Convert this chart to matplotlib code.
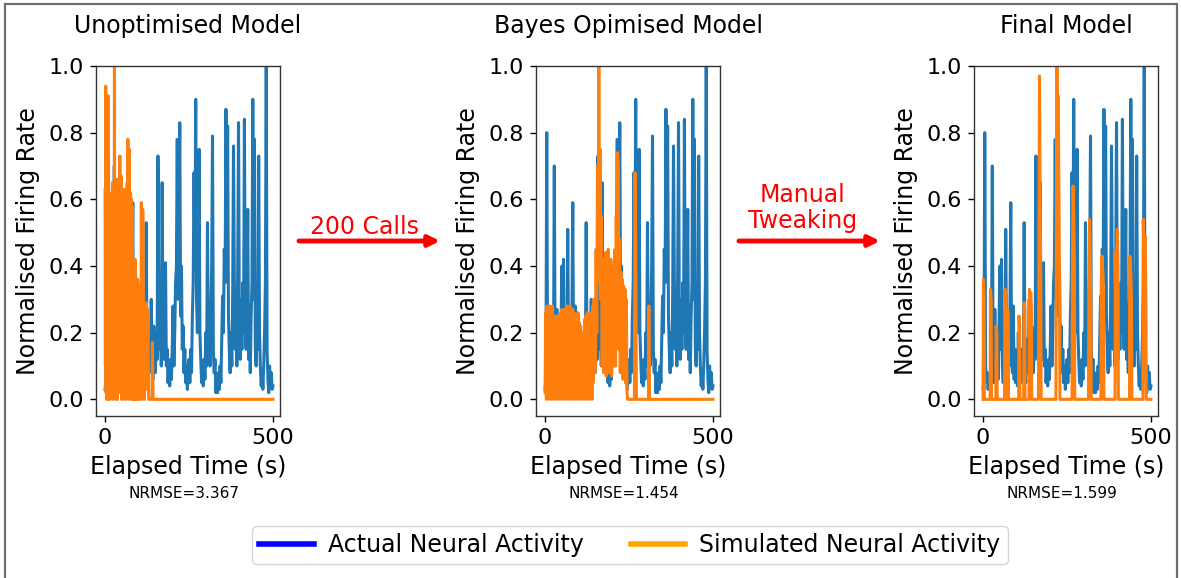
import matplotlib
matplotlib.use("Agg")
import matplotlib.pyplot as plt
from matplotlib.lines import Line2D
from matplotlib.patches import Rectangle, FancyArrowPatch

# keep every vertex of the spiky traces
plt.rcParams["path.simplify"] = False

# ---------------------------------------------------------------- data
# Recorded (actual) normalised firing rate, one sample every 2.5 s (0-500 s)
actual_t = [i * 2.5 for i in range(201)]
actual_v = [
    # 0 - 47.5
    0.03, 0.06, 0.80, 0.10, 0.05, 0.08, 0.03, 0.06, 0.04, 0.07,
    0.12, 0.70, 0.09, 0.05, 0.27, 0.08, 0.04, 0.12, 0.06, 0.22,
    # 50 - 97.5
    0.40, 0.15, 0.42, 0.10, 0.05, 0.12, 0.08, 0.51, 0.14, 0.06,
    0.20, 0.10, 0.25, 0.59, 0.12, 0.08, 0.28, 0.06, 0.15, 0.05,
    # 100 - 147.5
    0.12, 0.04, 0.20, 0.07, 0.10, 0.05, 0.15, 0.06, 0.10, 0.53,
    0.08, 0.05, 0.18, 0.08, 0.12, 0.30, 0.10, 0.06, 0.22, 0.12,
    # 150 - 197.5
    0.08, 0.20, 0.12, 0.73, 0.30, 0.15, 0.25, 0.10, 0.65, 0.20,
    0.12, 0.18, 0.41, 0.10, 0.15, 0.05, 0.10, 0.04, 0.12, 0.06,
    # 200 - 247.5
    0.15, 0.28, 0.10, 0.20, 0.35, 0.40, 0.78, 0.30, 0.55, 0.83,
    0.25, 0.40, 0.15, 0.22, 0.08, 0.15, 0.05, 0.10, 0.03, 0.08,
    # 250 - 297.5
    0.12, 0.05, 0.15, 0.08, 0.25, 0.35, 0.68, 0.40, 0.90, 0.30,
    0.20, 0.40, 0.75, 0.20, 0.12, 0.05, 0.10, 0.04, 0.12, 0.06,
    # 300 - 347.5
    0.20, 0.10, 0.53, 0.15, 0.22, 0.10, 0.25, 0.40, 0.79, 0.15,
    0.08, 0.12, 0.02, 0.06, 0.02, 0.08, 0.03, 0.10, 0.05, 0.18,
    # 350 - 397.5
    0.31, 0.20, 0.45, 0.35, 0.87, 0.40, 0.82, 0.25, 0.15, 0.08,
    0.20, 0.10, 0.30, 0.76, 0.35, 0.15, 0.25, 0.10, 0.40, 0.83,
    # 400 - 447.5
    0.20, 0.12, 0.30, 0.15, 0.35, 0.20, 0.84, 0.25, 0.15, 0.30,
    0.57, 0.12, 0.20, 0.08, 0.25, 0.35, 0.90, 0.30, 0.78, 0.15,
    # 450 - 497.5
    0.10, 0.25, 0.15, 0.73, 0.20, 0.10, 0.04, 0.08, 0.03, 0.10,
    0.20, 0.35, 1.00, 0.15, 0.06, 0.02, 0.10, 0.04, 0.08, 0.03,
    # 500
    0.04,
]

# Simulated activity, unoptimised model (1 s samples while active, then sparse)
sim_unopt_t = list(range(0, 85)) + [
    86, 88, 89, 91, 92, 96, 97, 99, 100, 107, 108, 110, 112, 113, 115, 117,
    118, 120, 122, 124, 126, 128, 130, 140, 141, 143, 500,
]
sim_unopt_v = [
    0.63, 0.10, 0.94, 0.02, 0.65, 0.00, 0.62, 0.15, 0.60, 0.00,
    0.91, 0.20, 0.62, 0.05, 0.60, 0.00, 0.58, 0.30, 0.60, 0.02,
    0.62, 0.10, 0.65, 0.00, 0.60, 0.25, 0.62, 0.05, 1.00, 0.10,
    0.60, 0.00, 0.62, 0.20, 0.60, 0.03, 0.66, 0.00, 0.63, 0.15,
    0.60, 0.02, 0.62, 0.30, 0.73, 0.05, 0.60, 0.10, 0.67, 0.00,
    0.60, 0.20, 0.62, 0.04, 0.58, 0.00, 0.60, 0.25, 0.63, 0.02,
    0.60, 0.10, 0.62, 0.00, 0.60, 0.15, 0.65, 0.03, 0.78, 0.20,
    0.60, 0.00, 0.75, 0.10, 0.60, 0.02, 0.62, 0.20, 0.60, 0.00,
    0.58, 0.05, 0.42, 0.00, 0.40,
    # sparse tail
    0.00, 0.00, 0.42, 0.38, 0.00, 0.00, 0.36, 0.30, 0.00, 0.00, 0.59, 0.10,
    0.57, 0.53, 0.00, 0.00, 0.25, 0.05, 0.29, 0.03, 0.27, 0.22, 0.00, 0.00,
    0.17, 0.00, 0.00,
]

# Simulated activity, Bayes-optimised model (2 s samples while active)
sim_bayes_t = list(range(0, 246, 2)) + [246, 266, 268, 270, 272, 308, 309,
                                          311, 500]
sim_bayes_v = [
    # 0 - 148
    0.02, 0.26, 0.00, 0.28, 0.03, 0.27, 0.00, 0.28, 0.05, 0.26,
    0.00, 0.28, 0.02, 0.25, 0.00, 0.25, 0.04, 0.24, 0.00, 0.25,
    0.03, 0.24, 0.00, 0.26, 0.02, 0.27, 0.00, 0.26, 0.05, 0.27,
    0.00, 0.26, 0.02, 0.28, 0.00, 0.27, 0.04, 0.28, 0.00, 0.26,
    0.02, 0.27, 0.00, 0.26, 0.03, 0.25, 0.00, 0.24, 0.02, 0.26,
    0.00, 0.23, 0.03, 0.22, 0.00, 0.19, 0.02, 0.20, 0.00, 0.24,
    0.03, 0.25, 0.00, 0.26, 0.02, 0.25, 0.00, 0.24, 0.03, 0.26,
    0.00, 0.28, 0.05, 0.30, 0.08,
    # 150 - 244
    0.10, 0.45, 0.20, 0.70, 0.35, 1.00, 0.50, 0.75, 0.30, 0.55,
    0.10, 0.42, 0.08, 0.38, 0.10, 0.44, 0.07, 0.40, 0.12, 0.45,
    0.08, 0.38, 0.12, 0.42, 0.07, 0.36, 0.10, 0.40, 0.12, 0.45,
    0.10, 0.55, 0.20, 0.74, 0.70, 0.15, 0.48, 0.08, 0.38, 0.10,
    0.36, 0.06, 0.34, 0.08, 0.33, 0.05, 0.30, 0.02,
    # sparse tail
    0.00, 0.00, 0.68, 0.45, 0.00, 0.00, 0.28, 0.00, 0.00,
]

# Simulated activity, final (hand-tuned) model: isolated bursts
sim_final_t = [
    0, 1, 3, 4, 21, 22, 24, 25, 38, 39, 41, 42, 64, 65, 67, 68, 72, 73, 75, 76,
    106, 107, 109, 110, 121, 122, 124, 125, 137, 138, 140, 142, 144, 145,
    165, 166, 168, 170, 172, 173, 217, 218, 220, 222, 224, 226, 228, 229,
    265, 266, 268, 270, 272, 273, 314, 315, 317, 319, 321, 322,
    351, 352, 354, 357, 359, 360, 393, 394, 397, 400, 402, 403,
    436, 437, 440, 442, 443, 476, 477, 480, 483, 485, 486, 500,
]
sim_final_v = [
    0.00, 0.36, 0.30, 0.00, 0.00, 0.33, 0.30, 0.00, 0.00, 0.22, 0.20, 0.00,
    0.00, 0.33, 0.30, 0.00, 0.00, 0.27, 0.25, 0.00, 0.00, 0.25, 0.22, 0.00,
    0.00, 0.29, 0.27, 0.00, 0.00, 0.33, 0.30, 0.32, 0.28, 0.00,
    0.00, 0.30, 0.97, 0.60, 0.35, 0.00, 0.00, 0.40, 1.00, 0.55, 0.91, 0.60,
    0.30, 0.00, 0.00, 0.40, 0.64, 0.55, 0.40, 0.00, 0.00, 0.30, 0.54, 0.45,
    0.30, 0.00, 0.00, 0.35, 0.43, 0.38, 0.30, 0.00, 0.00, 0.44, 0.38, 0.51,
    0.40, 0.00, 0.00, 0.43, 0.38, 0.30, 0.00, 0.00, 0.54, 0.45, 0.49, 0.30,
    0.00, 0.00,
]

panel_titles = ["Unoptimised Model", "Bayes Opimised Model", "Final Model"]
nrmse_values = ["3.367", "1.454", "1.599"]
sim_series = [(sim_unopt_t, sim_unopt_v), (sim_bayes_t, sim_bayes_v),
              (sim_final_t, sim_final_v)]
legend_labels = ["Actual Neural Activity", "Simulated Neural Activity"]
arrow_labels = ["200 Calls", "Manual\nTweaking"]

# ---------------------------------------------------------------- layout
W, H = 1181, 578
fig = plt.figure(figsize=(W / 100, H / 100), dpi=100)


def fx(px):
    return px / W


def fy(py):
    return 1 - py / H


axes_left_px = [96, 536, 974]
axes_w_px = 184
axes_top_px, axes_bot_px = 66, 416

for i, left in enumerate(axes_left_px):
    ax = fig.add_axes([fx(left), fy(axes_bot_px), axes_w_px / W,
                       (axes_bot_px - axes_top_px) / H])
    ax.plot(actual_t, actual_v, color="#1f77b4", lw=2.2)
    st, sv = sim_series[i]
    ax.plot(st, sv, color="#ff7f0e", lw=2.2)
    ax.set_xlim(-27, 521)
    ax.set_ylim(-0.05, 1.0)
    ax.set_xticks([0, 500])
    ax.set_yticks([0.0, 0.2, 0.4, 0.6, 0.8, 1.0])
    ax.tick_params(labelsize=16, length=4.5, width=1, pad=4)
    for sp in ax.spines.values():
        sp.set_color("#333333")
        sp.set_linewidth(1.0)
    ax.set_title(panel_titles[i], fontsize=17, pad=24)
    ax.set_xlabel("Elapsed Time (s)", fontsize=17, labelpad=5)
    ax.set_ylabel("Normalised Firing Rate", fontsize=17, labelpad=6)
    cx = left + axes_w_px / 2 - 4
    fig.text(fx(cx), fy(493), "NRMSE=" + nrmse_values[i], fontsize=11,
             ha="center", va="center")

# transition arrows between the panels
arrow_spans = [(299, 440), (739, 880)]
label_pos = [(364, 227), (803, 208)]
for (x0, x1), (lx, ly), txt in zip(arrow_spans, label_pos, arrow_labels):
    fig.add_artist(FancyArrowPatch(
        (fx(x0), fy(241)), (fx(x1), fy(241)), transform=fig.transFigure,
        arrowstyle="-|>", mutation_scale=16, color="red", lw=3.5,
        shrinkA=0, shrinkB=0))
    fig.text(fx(lx), fy(ly), txt, color="red", fontsize=17, ha="center",
             va="center", linespacing=1.15)

# shared legend
handles = [Line2D([], [], color="blue", lw=4),
           Line2D([], [], color="orange", lw=4)]
fig.legend(handles, legend_labels, loc="center", ncol=2,
           bbox_to_anchor=(fx(630), fy(545)), fontsize=17,
           handlelength=2.3, handletextpad=0.6, columnspacing=2.0,
           borderpad=0.3, frameon=True)

# outer frame
fig.add_artist(Rectangle((fx(5), fy(590)), fx(1177) - fx(5), fy(4) - fy(590),
                         transform=fig.transFigure, fill=False,
                         edgecolor="#6e6e6e", lw=1.6))

fig.savefig("out.png", dpi=100)
